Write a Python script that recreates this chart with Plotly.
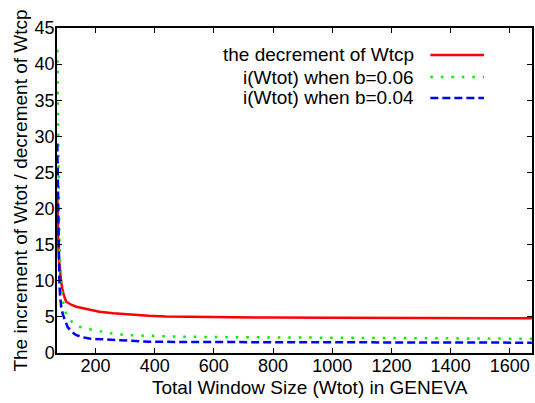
import plotly.graph_objects as go

# Data
red_x = [71, 72, 74, 77, 80, 84, 88, 93, 101, 110, 120, 135, 157, 185, 213, 260, 323, 380, 437, 520, 600, 700, 800, 985, 1100, 1300, 1500, 1675]
red_y = [22, 19, 15.5, 12.8, 11.0, 9.9, 8.9, 8.0, 7.1, 6.85, 6.65, 6.4, 6.2, 5.9, 5.7, 5.5, 5.3, 5.15, 5.05, 5.0, 4.95, 4.92, 4.9, 4.88, 4.85, 4.85, 4.82, 4.8]

green_x = [71, 72, 73, 74, 76, 78, 80, 84, 87, 91, 95, 104, 112, 125, 140, 165, 190, 230, 269, 320, 380, 500, 700, 900, 1100, 1300, 1500, 1675]
green_y = [42, 37, 32, 27, 20, 16, 13, 10.1, 8.3, 7.0, 6.0, 5.2, 4.7, 4.1, 3.7, 3.4, 3.2, 2.85, 2.6, 2.45, 2.35, 2.25, 2.18, 2.12, 2.08, 2.03, 2.0, 1.97]

blue_x = [71, 72, 73, 74, 76, 78, 80, 84, 90, 98, 106, 118, 134, 155, 179, 220, 269, 320, 380, 500, 700, 900, 1100, 1300, 1500, 1675]
blue_y = [29, 25, 21, 17.5, 13, 10, 8.2, 6.4, 5.3, 4.3, 3.6, 3.0, 2.5, 2.2, 2.0, 1.9, 1.8, 1.68, 1.57, 1.52, 1.5, 1.48, 1.46, 1.45, 1.44, 1.43]

names = ["the decrement of Wtcp", "i(Wtot) when b=0.06", "i(Wtot) when b=0.04"]
colors = ["#ff0000", "#00ee00", "#0000ff"]
dashes = ["solid", "2.5px,8px", "8px,4px"]

x_ticks = [200, 400, 600, 800, 1000, 1200, 1400, 1600]
y_ticks = [0, 5, 10, 15, 20, 25, 30, 35, 40, 45]

x_title = "Total Window Size (Wtot) in GENEVA"
y_title = "The increment of Wtot / decrement of Wtcp"

FONT = "Liberation Sans, Arial, Helvetica, sans-serif"

fig = go.Figure()
for xs, ys, nm, c, d in zip([red_x, green_x, blue_x], [red_y, green_y, blue_y], names, colors, dashes):
    fig.add_trace(go.Scatter(x=xs, y=ys, mode="lines", name=nm,
                             line=dict(color=c, width=2.5, dash=d),
                             showlegend=False))

# manual legend (text right-aligned, line sample on the right, as in gnuplot)
leg_y = [0.917, 0.849, 0.785]
for nm, c, d, yy in zip(names, colors, dashes, leg_y):
    fig.add_annotation(x=0.755, y=yy, xref="paper", yref="paper", text=nm,
                       showarrow=False, xanchor="right", yanchor="middle",
                       font=dict(family=FONT, size=19, color="black"))
    fig.add_shape(type="line", xref="paper", yref="paper", x0=0.786, x1=0.899, y0=yy, y1=yy,
                  line=dict(color=c, width=2.5, dash=d))

# x-axis title (offset to the right as in the reference)
fig.add_annotation(x=0.5325, y=-0.105, xref="paper", yref="paper", text=x_title,
                   showarrow=False, xanchor="center", yanchor="middle",
                   font=dict(family=FONT, size=19, color="black"))

axis_common = dict(showgrid=False, zeroline=False, showline=True, linecolor="black", linewidth=1.5,
                   mirror="ticks", ticks="inside", ticklen=5, tickcolor="black", tickwidth=1,
                   tickfont=dict(family=FONT, size=18, color="black"))

fig.update_xaxes(range=[70, 1675], tickvals=x_ticks, ticklabelstandoff=-4, **axis_common)
fig.update_yaxes(range=[0, 45], tickvals=y_ticks, ticklabelstandoff=-3,
                 title=dict(text=y_title, standoff=2,
                            font=dict(family=FONT, size=19, color="black")),
                 **axis_common)

fig.update_layout(width=535, height=403, margin=dict(l=57, r=1, t=28, b=50),
                  plot_bgcolor="white", paper_bgcolor="white")

fig.write_html("out.html")
